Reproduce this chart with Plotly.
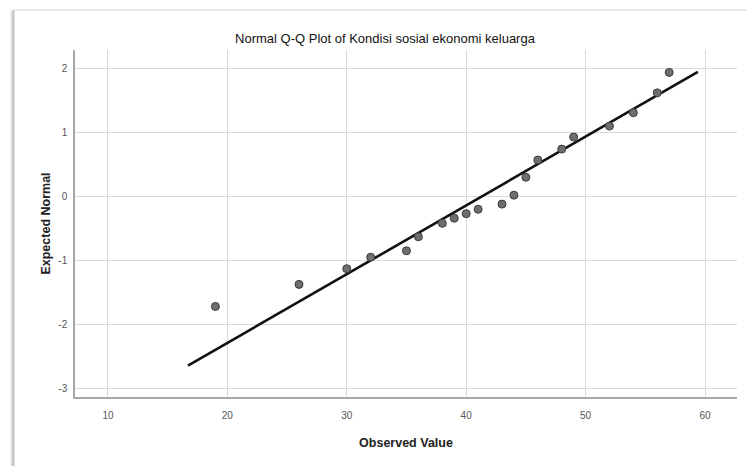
import plotly.graph_objects as go

# Data
observed = [19, 26, 30, 32, 35, 36, 38, 39, 40, 41, 43, 44, 45, 46, 48, 49, 52, 54, 56, 57]
expected = [-1.72, -1.375, -1.13, -0.95, -0.85, -0.63, -0.42, -0.34, -0.27, -0.20,
            -0.12, 0.02, 0.30, 0.57, 0.74, 0.93, 1.10, 1.31, 1.62, 1.94]
line_mean = 41.3
line_sd = 9.3
line_x_range = [16.7, 59.4]
x_ticks = [10, 20, 30, 40, 50, 60]
y_ticks = [-3, -2, -1, 0, 1, 2]
y_tick_labels = ["-3", "-2", "-1", "0", "1", "2"]

line_y = [(v - line_mean) / line_sd for v in line_x_range]

fig = go.Figure()
fig.add_trace(go.Scatter(
    x=line_x_range, y=line_y, mode="lines",
    line=dict(color="#111111", width=2.6), hoverinfo="skip", showlegend=False))
fig.add_trace(go.Scatter(
    x=observed, y=expected, mode="markers",
    marker=dict(size=8, color="#6e6e6e", line=dict(color="#3c3c3c", width=1)),
    showlegend=False))

W, H = 746, 466
L, R, T, B = 75, 9, 50, 69
pw, ph = W - L - R, H - T - B

def px(xpix):
    return (xpix - L) / pw

def py(ypix):
    return (H - B - ypix) / ph

shapes = [
    dict(type="line", xref="paper", yref="paper", x0=px(13), x1=px(13), y0=py(10), y1=py(470),
         line=dict(color="#c4c4c4", width=3)),
    dict(type="line", xref="paper", yref="paper", x0=px(11), x1=px(11), y0=py(10), y1=py(470),
         line=dict(color="#ececec", width=2)),
    dict(type="line", xref="paper", yref="paper", x0=px(12), x1=px(750), y0=py(10), y1=py(10),
         line=dict(color="#e2e2e2", width=1.5)),
]

fig.update_layout(
    width=W, height=H,
    margin=dict(l=L, r=R, t=T, b=B),
    paper_bgcolor="white", plot_bgcolor="white",
    font=dict(family="Liberation Sans, Arial, sans-serif", color="#222222"),
    title=dict(text="Normal Q-Q Plot of Kondisi sosial ekonomi keluarga",
               x=385 / W, xref="container", xanchor="center",
               y=1 - 38 / H, yref="container", yanchor="middle",
               font=dict(size=13, color="#111111")),
    shapes=shapes,
    xaxis=dict(range=[7.24, 62.68], tickvals=x_ticks, showgrid=True, gridcolor="#dadada",
               gridwidth=1, zeroline=False, showline=True, linecolor="#a8a8a8", linewidth=1.5,
               ticks="", ticklabelstandoff=8, tickfont=dict(size=10, color="#555555"),
               title=dict(text="<b>Observed Value</b>", font=dict(size=12.5, color="#222222"),
                          standoff=18)),
    yaxis=dict(range=[-3.136, 2.29], tickvals=y_ticks, ticktext=y_tick_labels,
               showgrid=True, gridcolor="#dadada",
               gridwidth=1, zeroline=False, showline=True, linecolor="#a8a8a8", linewidth=1.5,
               ticks="", ticklabelstandoff=4, tickfont=dict(size=10, color="#555555"),
               title=dict(text="<b>Expected Normal</b>", font=dict(size=12.5, color="#222222"),
                          standoff=5)),
)

fig.write_html("out.html")
